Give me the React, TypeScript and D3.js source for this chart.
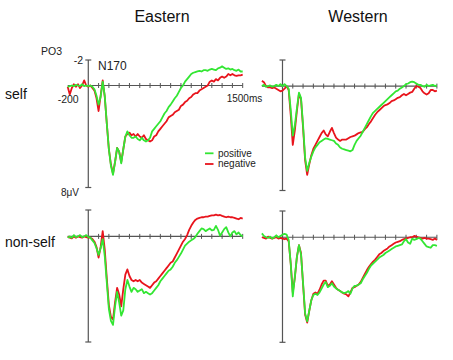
import React from 'react';
import * as d3 from 'd3';

// time grid (ms), 20 ms steps from -200 to 1500
const times: number[] = d3.range(-200, 1501, 20);
const xTickValues: number[] = d3.range(100, 1501, 100);

const columnTitles = ['Eastern', 'Western'];
const rowTitles = ['self', 'non-self'];
const seriesNames = ['positive', 'negative'];

// amplitudes in µV (positive plotted downward)
const eastSelfPos = [
  0.1, 0.05, 0.0, 0.05, -0.05, 0.0, 0.05, -0.1, 0.05, 0.0,
  0.05, 0.0, 0.1, 0.3, 0.8, 1.5, 0.9, -0.3, 0.8, 3.0,
  5.0, 6.3, 7.0, 6.0, 4.9, 5.2, 6.1, 5.0, 4.0, 3.6,
  3.9, 4.1, 4.1, 4.0, 4.2, 4.3, 4.1, 4.3, 4.4, 4.3,
  4.1, 3.6, 3.4, 3.2, 3.0, 2.8, 2.5, 2.2, 2.0, 1.7,
  1.5, 1.25, 1.0, 0.8, 0.5, 0.2, 0.0, -0.3, -0.5, -0.7,
  -0.9, -1.0, -1.05, -1.1, -1.15, -1.1, -1.2, -1.2, -1.15, -1.25,
  -1.3, -1.25, -1.2, -1.35, -1.4, -1.5, -1.4, -1.3, -1.35, -1.25,
  -1.3, -1.2, -1.15, -1.25, -1.1, -1.1,
];
const eastSelfNeg = [
  0.1, 0.7, 0.2, -0.1, 0.1, -0.1, 0.2, 0.0, -0.4, 0.0,
  0.1, 0.0, 0.2, 0.4, 1.0, 2.0, 0.8, -0.4, 0.9, 3.0,
  5.0, 6.2, 6.9, 6.0, 4.9, 5.2, 6.0, 5.0, 4.0, 3.8,
  3.7, 3.9, 3.8, 4.0, 3.8, 4.0, 4.1, 3.9, 4.2, 4.3,
  4.4, 4.3, 4.0, 3.9, 3.6, 3.4, 3.2, 3.0, 2.8, 2.5,
  2.4, 2.3, 2.1, 2.0, 1.9, 1.6, 1.5, 1.3, 1.2, 1.0,
  0.9, 0.7, 0.6, 0.6, 0.4, 0.3, 0.2, 0.1, 0.0, -0.3,
  -0.4, -0.3, -0.5, -0.4, -0.6, -0.7, -0.6, -0.7, -0.9, -0.8,
  -0.9, -0.8, -0.75, -0.8, -0.8, -0.85,
];
const westSelfPos = [
  0.0, -0.1, 0.05, 0.0, -0.05, 0.05, 0.0, -0.1, 0.0, -0.15,
  0.0, -0.15, 0.0, 0.2, 1.8, 3.8, 3.0, 1.7, 0.5, 0.9,
  3.0, 5.5, 6.5, 5.9, 5.4, 5.0, 4.7, 4.5, 4.3, 4.2,
  4.1, 4.0, 4.05, 4.1, 4.15, 4.2, 4.4, 4.5, 4.7, 4.8,
  4.85, 4.9, 4.95, 5.0, 4.9, 4.5, 4.2, 4.0, 3.8, 3.5,
  3.2, 2.9, 2.6, 2.3, 2.05, 1.9, 1.75, 1.6, 1.45, 1.3,
  1.15, 1.0, 0.85, 0.7, 0.55, 0.4, 0.35, 0.2, 0.1, 0.0,
  -0.15, -0.2, -0.3, -0.35, -0.3, -0.2, -0.1, -0.1, 0.0, 0.05,
  -0.1, 0.0, -0.05, -0.1, 0.0, -0.05,
];
const westSelfNeg = [
  -0.4, -0.3, 0.0, 0.1, 0.1, 0.15, 0.1, 0.2, 0.3, 0.4,
  0.35, 0.2, 0.0, 0.3, 2.2, 4.5, 3.4, 1.9, 0.6, 1.0,
  3.2, 5.7, 6.8, 6.0, 5.3, 4.8, 4.5, 4.2, 3.9, 3.6,
  3.4, 3.7, 3.85, 3.5, 3.2, 3.6, 3.95, 4.1, 4.2, 4.1,
  4.1, 4.1, 4.0, 3.9, 3.85, 3.8, 3.7, 3.6, 3.55, 3.5,
  3.3, 3.15, 2.9, 2.7, 2.45, 2.2, 2.0, 1.85, 1.7, 1.55,
  1.45, 1.4, 1.3, 1.15, 1.1, 1.0, 0.9, 0.85, 0.7, 0.6,
  0.7, 0.6, 0.5, 0.45, 0.2, 0.0, 0.05, 0.15, 0.4, 0.55,
  0.65, 0.55, 0.3, 0.3, 0.4, 0.35,
];
const eastNonPos = [
  0.1, 0.0, 0.1, -0.1, 0.05, 0.0, -0.1, 0.05, 0.0, -0.1,
  0.05, 0.1, 0.3, 0.5, 0.9, 1.4, 0.9, 0.2, 1.5, 3.5,
  5.5, 6.4, 6.7, 5.3, 4.2, 5.0, 6.0, 5.6, 4.0, 3.3,
  3.8, 4.2, 3.9, 4.0, 4.2, 4.1, 4.0, 4.3, 4.2, 4.3,
  4.4, 4.3, 4.1, 3.9, 3.7, 3.4, 3.2, 3.0, 2.8, 2.6,
  2.5, 2.3, 2.0, 1.8, 1.55, 1.3, 1.0, 0.7, 0.55, 0.4,
  0.3, 0.2, 0.05, -0.2, -0.4, -0.6, -0.55, -0.4, -0.5, -0.6,
  -0.45, -0.5, -0.8, -0.5, -0.05, -0.3, -0.55, -0.7, -0.3, 0.0,
  -0.3, -0.4, -0.15, -0.3, -0.1, 0.0,
];
const eastNonNeg = [
  0.0, 0.1, 0.15, 0.0, 0.1, 0.0, 0.05, 0.1, 0.0, 0.05,
  0.1, 0.1, 0.2, 0.4, 0.8, 1.6, 0.8, -0.4, 1.0, 3.2,
  5.2, 6.1, 6.3, 5.0, 3.9, 4.4, 5.3, 4.0, 2.9, 2.5,
  3.0, 3.3, 3.4, 3.3, 3.4, 3.3, 3.5, 3.6, 3.7, 3.8,
  3.9, 3.7, 3.5, 3.4, 3.2, 3.0, 2.8, 2.6, 2.4, 2.2,
  2.0, 1.9, 1.6, 1.3, 1.0, 0.7, 0.4, 0.2, -0.1, -0.5,
  -0.8, -1.05, -1.25, -1.35, -1.4, -1.45, -1.45, -1.5, -1.5, -1.55,
  -1.6, -1.6, -1.65, -1.6, -1.62, -1.55, -1.5, -1.45, -1.5, -1.45,
  -1.45, -1.4, -1.35, -1.3, -1.4, -1.35,
];
const westNonPos = [
  -0.3, -0.1, 0.0, 0.05, -0.05, 0.1, 0.0, -0.15, 0.0, -0.1,
  -0.2, -0.25, -0.2, 0.2, 2.0, 4.5, 3.0, 1.5, 0.6, 1.3,
  3.5, 5.8, 6.4, 5.6, 4.8, 4.4, 4.3, 4.4, 4.2, 3.9,
  3.6, 3.4, 3.8, 3.7, 3.5, 3.75, 3.9, 4.0, 4.1, 4.2,
  4.25, 4.2, 4.1, 4.3, 3.9, 3.7, 3.7, 3.6, 3.5, 3.2,
  2.95, 2.7, 2.4, 2.15, 2.0, 1.85, 1.7, 1.55, 1.45, 1.35,
  1.2, 1.1, 1.0, 0.9, 0.8, 0.7, 0.65, 0.6, 0.55, 0.3,
  0.15, 0.4, 0.5, 0.1, 0.2, 0.15, 0.05, 0.1, 0.3, 0.5,
  0.7, 0.75, 0.8, 0.6, 0.6, 0.65,
];
const westNonNeg = [
  0.0, 0.05, 0.1, -0.05, 0.05, 0.1, 0.05, 0.0, 0.1, 0.05,
  0.1, 0.15, 0.1, 0.3, 2.0, 4.2, 3.1, 1.5, 0.6, 1.2,
  3.6, 5.9, 6.5, 5.6, 4.8, 4.3, 4.2, 4.3, 4.0, 3.6,
  3.3, 3.3, 3.7, 3.6, 3.35, 3.6, 3.85, 4.0, 4.1, 4.2,
  4.3, 4.35, 4.5, 4.2, 3.85, 3.8, 3.7, 3.6, 3.4, 3.1,
  2.8, 2.5, 2.25, 2.05, 1.85, 1.7, 1.5, 1.3, 1.2, 1.05,
  0.95, 0.85, 0.7, 0.6, 0.5, 0.4, 0.35, 0.3, 0.2, 0.15,
  0.1, 0.05, 0.0, 0.0, -0.1, -0.05, 0.0, 0.05, 0.1, 0.05,
  0.1, 0.1, 0.15, 0.2, 0.1, 0.2,
];

const GREEN = '#33e633';
const RED = '#e8141c';
const AXIS = '#555555';
const FONT = '"Liberation Sans", Arial, sans-serif';

const columns = [
  { x0: 67.7, x1: 242.7 },
  { x0: 261.9, x1: 436.9 },
];
const panelBoxes = [
  { y0: 60, y1: 187.5 },
  { y0: 60, y1: 190.5 },
  { y0: 210, y1: 342 },
  { y0: 211, y1: 342.3 },
];

const panels = [
  { row: 0, col: 0, pos: eastSelfPos, neg: eastSelfNeg },
  { row: 0, col: 1, pos: westSelfPos, neg: westSelfNeg },
  { row: 1, col: 0, pos: eastNonPos, neg: eastNonNeg },
  { row: 1, col: 1, pos: westNonPos, neg: westNonNeg },
];

function Panel({ idx, row, col, pos, neg }: { idx: number; row: number; col: number; pos: number[]; neg: number[] }) {
  const x = d3.scaleLinear().domain([-200, 1500]).range([columns[col].x0, columns[col].x1]);
  const y = d3.scaleLinear().domain([-2, 8]).range([panelBoxes[idx].y0, panelBoxes[idx].y1]);
  const line = d3
    .line<number>()
    .x((_, i) => x(times[i]))
    .y((d) => y(d));
  const y0 = y(0);
  const x0 = x(0);
  return (
    <g>
      <line x1={x(-200)} x2={x(1500)} y1={y0} y2={y0} stroke={AXIS} strokeWidth={1.2} />
      {xTickValues.map((t) => (
        <line key={t} x1={x(t)} x2={x(t)} y1={y0 - 2.5} y2={y0 + 2.5} stroke={AXIS} strokeWidth={1} />
      ))}
      <line x1={x0} x2={x0} y1={y(-2)} y2={y(8)} stroke={AXIS} strokeWidth={1.2} />
      <line x1={x0 - 3} x2={x0 + 3} y1={y(-2)} y2={y(-2)} stroke={AXIS} strokeWidth={1.2} />
      <line x1={x0 - 3} x2={x0 + 3} y1={y(8)} y2={y(8)} stroke={AXIS} strokeWidth={1.2} />
      <path d={line(neg) || ''} fill="none" stroke={RED} strokeWidth={1.8} strokeLinejoin="round" />
      <path d={line(pos) || ''} fill="none" stroke={GREEN} strokeWidth={1.8} strokeLinejoin="round" />
      {row === 0 && col === 0 && (
        <g fontFamily={FONT} fill="#222">
          <text x={41} y={55} fontSize={10.5}>PO3</text>
          <text x={83} y={63.5} fontSize={10.5} textAnchor="end">-2</text>
          <text x={98} y={69.5} fontSize={12}>N170</text>
          <text x={x(-200) + 0.5} y={102.5} fontSize={10.5} textAnchor="middle">-200</text>
          <text x={x(1500) - 16} y={101.5} fontSize={10}>1500ms</text>
          <text x={79} y={196} fontSize={10} textAnchor="end">8μV</text>
        </g>
      )}
    </g>
  );
}

export default function App() {
  return (
    <svg
      width={453}
      height={360}
      style={{ position: 'absolute', left: 0, top: 0, background: '#fff' }}
      fontFamily={FONT}
    >
      <rect width={453} height={360} fill="#fff" />
      {columnTitles.map((t, i) => (
        <text key={t} x={i === 0 ? 162 : 358} y={21.7} fontSize={16} textAnchor="middle" fill="#111">
          {t}
        </text>
      ))}
      {rowTitles.map((t, i) => (
        <text key={t} x={5} y={i === 0 ? 98.5 : 247} fontSize={14} fill="#111">
          {t}
        </text>
      ))}
      {panels.map((p, i) => (
        <Panel key={i} idx={i} {...p} />
      ))}
      <g fontFamily={FONT} fontSize={10} fill="#222">
        {seriesNames.map((s, i) => (
          <g key={s}>
            <line x1={205} x2={213.5} y1={153.3 + i * 10.7} y2={153.3 + i * 10.7} stroke={i === 0 ? GREEN : RED} strokeWidth={1.8} />
            <text x={218} y={156.5 + i * 10.7}>{s}</text>
          </g>
        ))}
      </g>
    </svg>
  );
}
